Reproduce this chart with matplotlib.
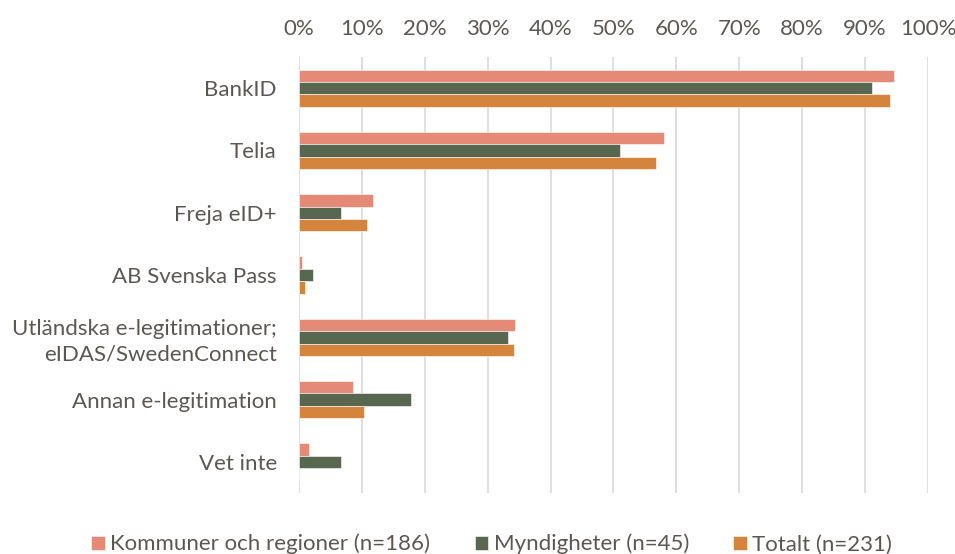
import numpy as np
import matplotlib.pyplot as plt
from matplotlib.ticker import PercentFormatter

categories = ["BankID", "Telia", "Freja eID+", "AB Svenska Pass",
              "Utländska e-legitimationer;\neIDAS/SwedenConnect",
              "Annan e-legitimation", "Vet inte"]
series_names = ["Kommuner och regioner (n=186)", "Myndigheter (n=45)", "Totalt (n=231)"]
kommuner = [94.6, 58.1, 11.8, 0.5, 34.4, 8.6, 1.6]
myndigheter = [91.1, 51.1, 6.7, 2.2, 33.3, 17.8, 6.7]
totalt = [93.9, 56.7, 10.8, 0.9, 34.2, 10.4, 0.0]
colors = ["#E48A77", "#586750", "#D4843C"]

plt.rcParams['font.family'] = ['Lato', 'DejaVu Sans']
text_color = "#5d5752"

fig = plt.figure(figsize=(9.55, 5.54), dpi=100)
ax = fig.add_axes([0.3131, 0.110, 0.6586, 0.787])

y = np.arange(len(categories))
h = 0.2
for i, (vals, name, c) in enumerate(zip([kommuner, myndigheter, totalt], series_names, colors)):
    ax.barh(y + (i - 1) * h, vals, height=h, color=c, label=name,
            edgecolor="white", linewidth=0.4, zorder=3)

ax.set_xlim(0, 100)
ax.set_ylim(len(categories) - 0.5, -0.5)
ax.set_yticks(y)
ax.set_yticklabels(categories, linespacing=1.3)
ax.set_xticks(np.arange(0, 101, 10))
ax.xaxis.set_major_formatter(PercentFormatter(decimals=0))
ax.xaxis.tick_top()
ax.tick_params(axis='both', length=0, labelsize=16, colors=text_color)
ax.tick_params(axis='y', pad=16)
ax.tick_params(axis='x', pad=13)
ax.grid(axis='x', color="#d9d9d9", linewidth=1.2, zorder=0)
for s in ax.spines.values():
    s.set_visible(False)

fig.legend(loc='lower center', bbox_to_anchor=(0.515, -0.037), ncol=3, frameon=False,
           fontsize=16, labelcolor=text_color, handlelength=0.6, handleheight=0.6,
           handletextpad=0.25, columnspacing=2.0)

fig.savefig("out.png", dpi=100)
